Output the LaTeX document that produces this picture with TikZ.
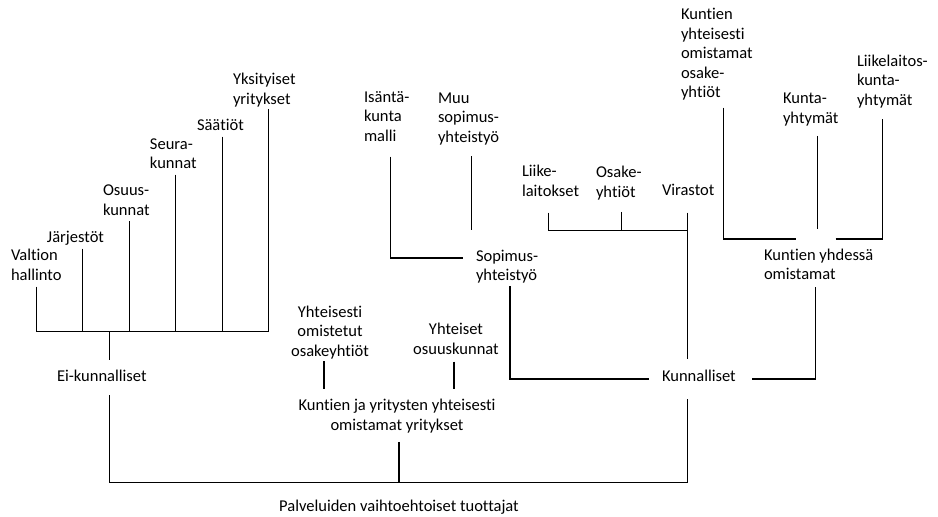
\documentclass[tikz,border=0pt]{standalone}
\usepackage{fontspec}
\setmainfont{Carlito}[Ligatures=NoCommon]
\usepackage{tikz}
\usetikzlibrary{calc}

\begin{document}
\begin{tikzpicture}[x=0.02cm, y=-0.02cm, line width=0.7pt,
    lbl/.style={inner sep=0pt, outer sep=0pt, anchor=west, align=left,
      font=\fontsize{9.4pt}{11.1pt}\selectfont},
    lblc/.style={lbl, anchor=center, align=center}]
    \useasboundingbox (0,0) rectangle (938,517);

    % Ei-kunnalliset
    \node[lbl] (valtion) at (11,265) {Valtion\\hallinto};
    \node[lbl] (jarj) at (47,238.5) {Järjestöt};
    \node[lbl] (osuus) at (103,200) {Osuus-\\kunnat};
    \node[lbl] (seura) at (150,153.5) {Seura-\\kunnat};
    \node[lbl] (saatiot) at (197,125) {Säätiöt};
    \node[lbl] (yksit) at (233,90) {Yksityiset\\yritykset};
    \node[lbl] (eikunn) at (57,375.5) {Ei-kunnalliset};

    % Kunnalliset
    \node[lbl] (isanta) at (364,116.5) {Isäntä-\\kunta\\malli};
    \node[lbl] (muu) at (438,119) {Muu\\sopimus-\\yhteistyö};
    \node[lbl] (sopimus) at (476,266.5) {Sopimus-\\yhteistyö};
    \node[lbl] (liike) at (522,181) {Liike-\\laitokset};
    \node[lbl] (osake) at (596,183) {Osake-\\yhtiöt};
    \node[lbl] (virastot) at (662,190) {Virastot};
    \node[lbl] (kyo) at (681,54.5) {Kuntien\\yhteisesti\\omistamat\\osake-\\yhtiöt};
    \node[lbl] (kuntayht) at (783,109.5) {Kunta-\\yhtymät};
    \node[lbl] (liikelaitos) at (857,81.5) {Liikelaitos-\\kunta-\\yhtymät};
    \node[lbl] (yhdessa) at (764,264.5) {Kuntien yhdessä\\omistamat};
    \node[lbl] (kunnalliset) at (662,375.5) {Kunnalliset};

    % Yhteiset
    \node[lblc] (yoo) at (330,332.5) {Yhteisesti\\omistetut\\osakeyhtiöt};
    \node[lblc] (yos) at (456,339) {Yhteiset\\osuuskunnat};
    \node[lblc] (kjy) at (397,416) {Kuntien ja yritysten yhteisesti\\omistamat yritykset};
    \node[lblc] (palv) at (399,507.5) {Palveluiden vaihtoehtoiset tuottajat};

    % Ei-kunnalliset tree
    \coordinate (ebar) at ($(eikunn.north)+(0,-38)$);
    \draw ($(valtion.south)+(0,6)$) coordinate (e1) -- (e1 |- ebar);
    \draw ($(jarj.south)+(7,3)$) coordinate (e2) -- (e2 |- ebar);
    \draw ($(osuus.south)+(3,6)$) coordinate (e3) -- (e3 |- ebar);
    \draw ($(seura.south)+(2,6)$) coordinate (e4) -- (e4 |- ebar);
    \draw ($(saatiot.south)+(2,6)$) coordinate (e5) -- (e5 |- ebar);
    \draw ($(yksit.south)+(4,2)$) coordinate (e6) -- (e6 |- ebar);
    \draw (e1 |- ebar) -- (e6 |- ebar);
    \draw ($(eikunn.north)+(8,-10)$) coordinate (e0) -- (e0 |- ebar);

    % Kunnalliset tree
    \coordinate (vbar) at ($(virastot.south)+(0,35)$);
    \draw ($(virastot.south)+(-1,17)$) coordinate (v0) -- ($(v0 |- kunnalliset.north)+(0,-11)$);
    \draw ($(liike.south)+(-2,16)$) coordinate (v1) -- (v1 |- vbar) -- (v0 |- vbar);
    \draw ($(osake.south)+(3,12)$) coordinate (v2) -- (v2 |- vbar);

    \draw ($(isanta.south)+(4,15)$) |- ($(sopimus.west)+(-13,-8.5)$);
    \draw ($(muu.south)+(3,11)$) coordinate (m0) -- ($(m0 |- sopimus.north)+(0,-20)$);
    \draw ($(sopimus.south)+(3,3)$) |- ($(kunnalliset.west)+(-13,3.5)$);

    \coordinate (ybar) at ($(yhdessa.north)+(-3,-10)$);
    \draw ($(kyo.south)+(7,7)$) coordinate (y1) -- (y1 |- ybar) -- ($(ybar)+(-20,0)$);
    \draw ($(kuntayht.south)+(7,10)$) coordinate (y2) -- ($(y2 |- ybar)+(0,-10)$);
    \draw ($(ybar)+(20,0)$) -| ($(liikelaitos.south)+(-10,11)$);
    \draw ($(yhdessa.south)+(-3,7)$) |- ($(kunnalliset.east)+(16,3.5)$);

    % Yhteiset tree
    \coordinate (kbar) at ($(kjy.north)+(0,-10)$);
    \draw ($(yoo.south)+(-6,2)$) coordinate (k1) -- (k1 |- kbar);
    \draw ($(yos.south)+(-2,7)$) coordinate (k2) -- (k2 |- kbar);

    % Bottom bar
    \coordinate (pbar) at ($(palv.north)+(0,-18)$);
    \draw ($(eikunn.south)+(8,14)$) coordinate (p1) -- (p1 |- pbar) -- (v0 |- pbar)
        -- ($(v0 |- kunnalliset.south)+(0,18)$);
    \draw ($(kjy.south)+(2,9)$) coordinate (p2) -- (p2 |- pbar);
\end{tikzpicture}
\end{document}
